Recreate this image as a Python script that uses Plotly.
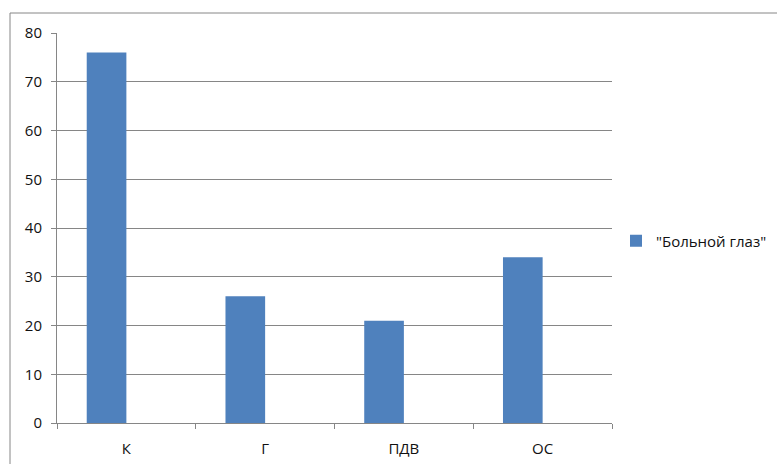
import plotly.graph_objects as go

# Categories and values
categories = ["К", "Г", "ПДВ", "ОС"]
values = [76, 26, 21, 34]
series_name = '"Больной глаз"'
y_ticks = [0, 10, 20, 30, 40, 50, 60, 70, 80]

positions = list(range(len(categories)))
bar_w = 1 / 3.5  # clustered layout with gap width 150%

fig = go.Figure()
fig.add_trace(go.Bar(
    x=positions,
    y=values,
    name=series_name,
    width=bar_w,
    offset=-bar_w,
    marker=dict(color="#4F81BD", line=dict(width=0)),
    showlegend=True,
))

W, H = 777, 464
ml, mr, mt, mb = 57, 165, 33, 41
pw = W - ml - mr
ph = H - mt - mb

fig.update_layout(
    width=W, height=H,
    margin=dict(l=ml, r=mr, t=mt, b=mb, autoexpand=False),
    paper_bgcolor="white",
    plot_bgcolor="white",
    font=dict(family="Open Sans, DejaVu Sans, sans-serif", size=15, color="#111111"),
    showlegend=True,
    legend=dict(
        x=(616 - ml) / pw, y=(423 - 241) / ph,
        xanchor="left", yanchor="middle",
        font=dict(size=15, color="#111111"),
        bgcolor="rgba(0,0,0,0)",
        itemwidth=30,
    ),
    xaxis=dict(
        range=[-0.5, len(categories) - 0.5],
        tickmode="array",
        tickvals=positions,
        ticktext=categories,
        ticks="",
        showgrid=False,
        zeroline=False,
        showline=True,
        linecolor="#868686",
        linewidth=1,
        ticklabelstandoff=12,
        minor=dict(ticks="outside", tick0=-0.5, dtick=1, ticklen=5,
                   tickcolor="#868686", showgrid=False),
        fixedrange=True,
    ),
    yaxis=dict(
        range=[0, 80],
        tickmode="array",
        tickvals=y_ticks,
        ticks="outside",
        ticklen=5,
        tickcolor="#868686",
        showgrid=True,
        gridcolor="#868686",
        gridwidth=1,
        zeroline=False,
        showline=True,
        linecolor="#868686",
        linewidth=1,
        ticklabelstandoff=6,
        fixedrange=True,
    ),
    shapes=[dict(
        type="rect", xref="paper", yref="paper",
        x0=(10 - ml) / pw, x1=(W + 20 - ml) / pw,
        y0=(H - mb - (H + 20)) / ph, y1=(H - mb - 13) / ph,
        line=dict(color="#868686", width=1),
        fillcolor="rgba(0,0,0,0)",
        layer="below",
    )],
)

fig.write_html("out.html")
